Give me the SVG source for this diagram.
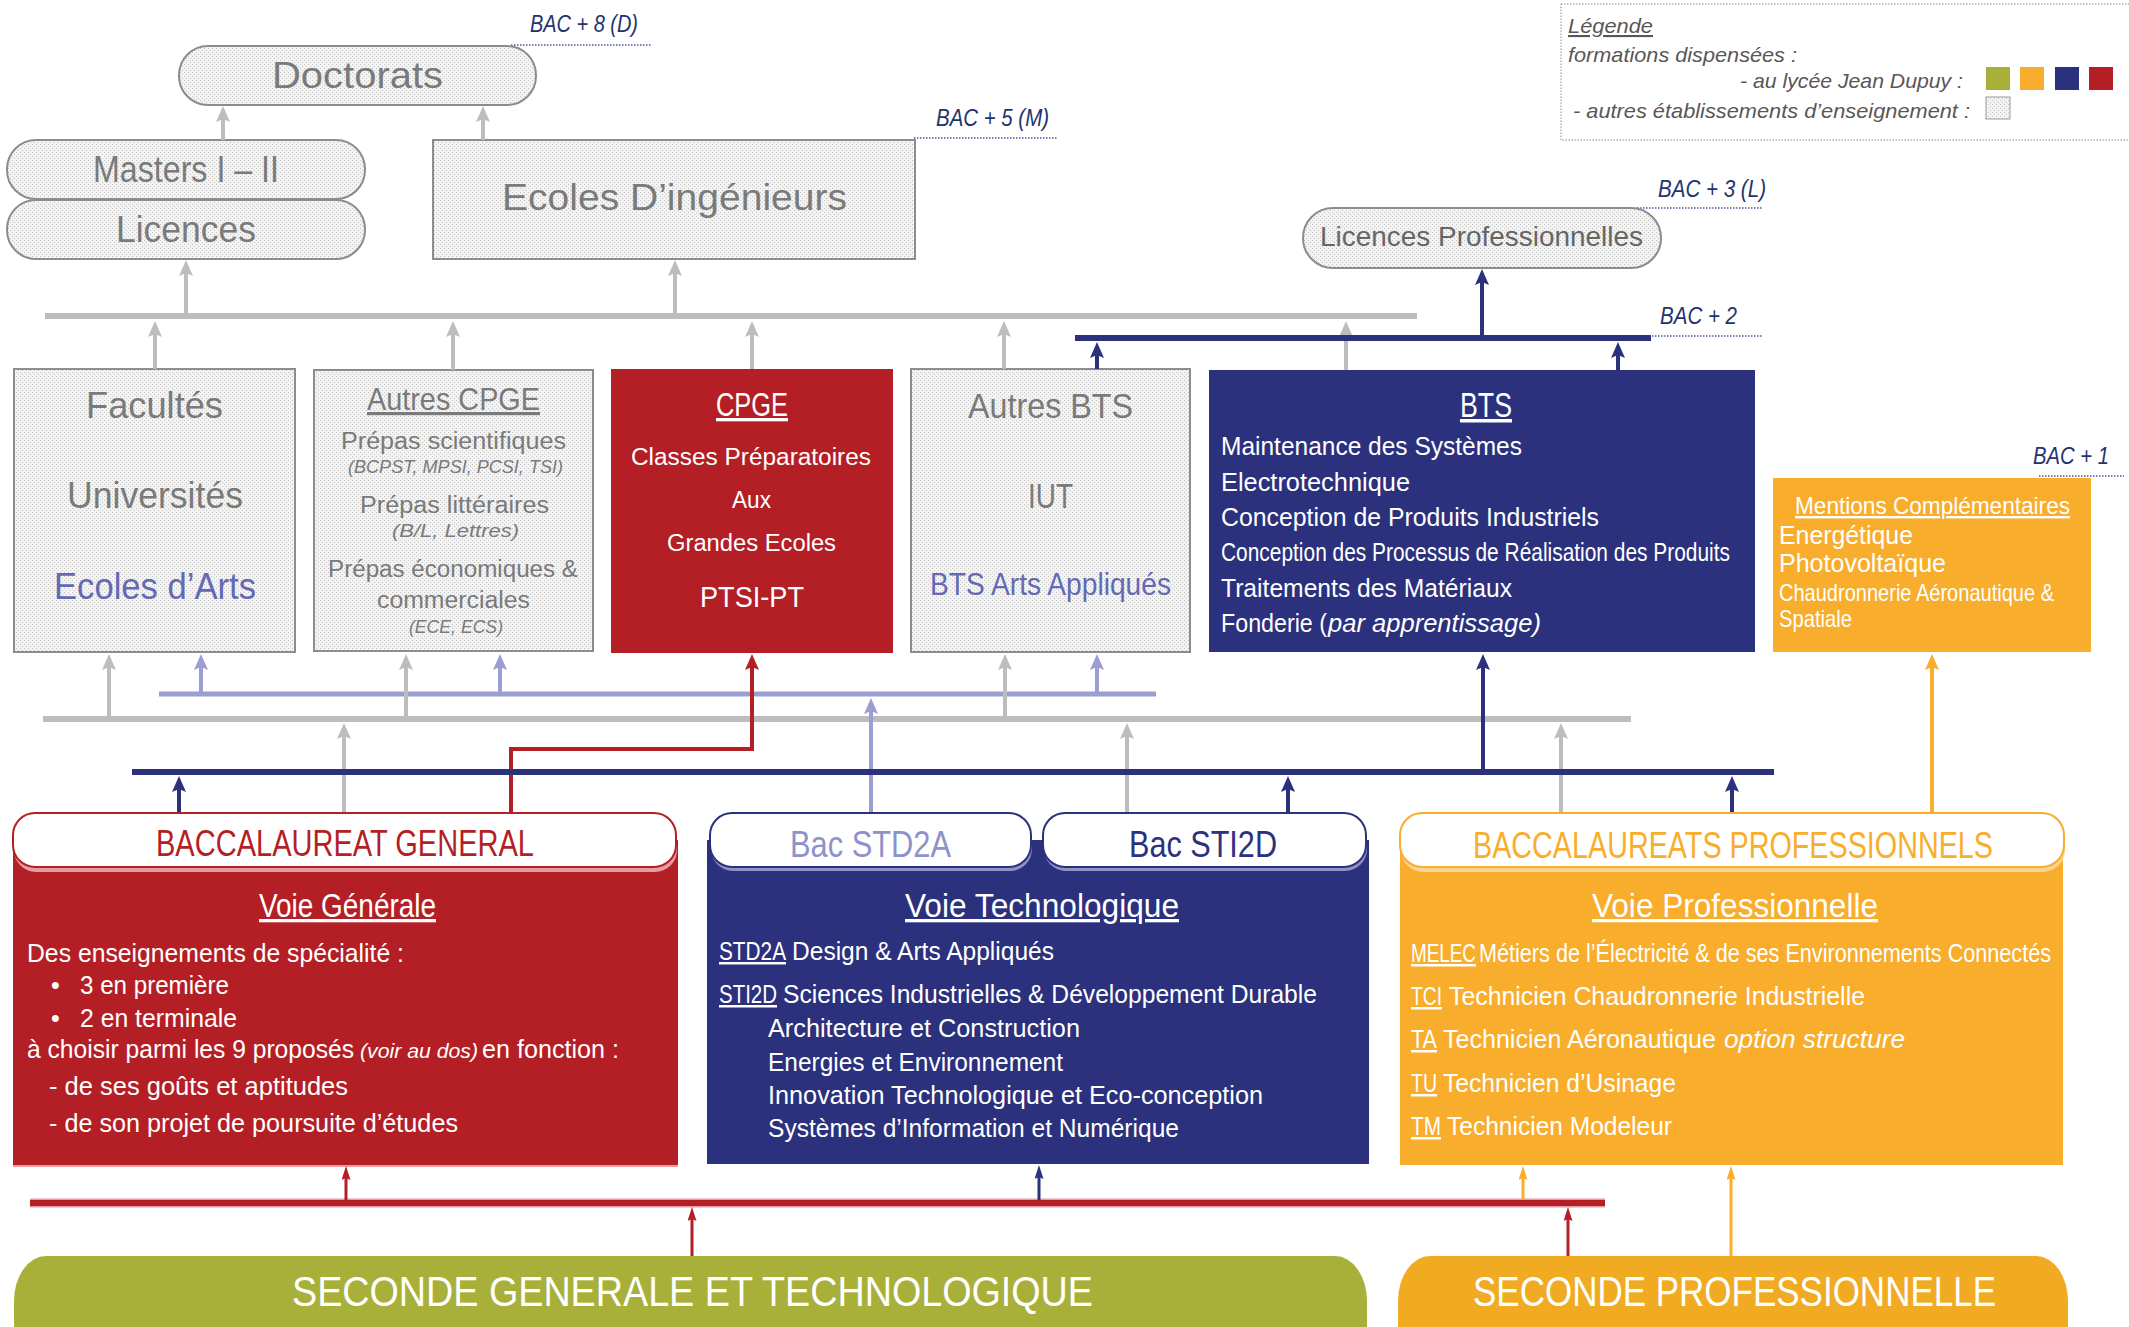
<svg xmlns="http://www.w3.org/2000/svg" width="2129" height="1327" viewBox="0 0 2129 1327">
<defs>
<style>
text{font-family:"Liberation Sans",Arial,sans-serif;}
.g{fill:#7a7a7a}
.w{fill:#ffffff}
.i{font-style:italic}
.u{text-decoration:underline}
.bac{fill:#23336e;font-style:italic;font-size:24px}
.leg{fill:#5b5656;font-style:italic;font-size:21px}
.ap{fill:#6369b5}
.gbox{fill:url(#dots);stroke:#8c8c8c;stroke-width:2}
.dl{stroke:#4a5596;stroke-width:1.5;stroke-dasharray:1.5 1.5;fill:none}
.cg{stroke:#bdbdbd;fill:none}
.cn{stroke:#2b317c;fill:none}
.cp{stroke:#9b9ed2;fill:none}
.cr{stroke:#b41f25;fill:none}
.co{stroke:#f9ad2d;fill:none}
</style>
<pattern id="dots" width="4" height="4" patternUnits="userSpaceOnUse">
<rect width="4" height="4" fill="#f3f3f3"/>
<rect width="1" height="1" fill="#c4c4c4"/>
<rect x="2" y="2" width="1" height="1" fill="#c4c4c4"/>
</pattern>
<marker id="mg" viewBox="0 0 16 14" markerWidth="16" markerHeight="14" refX="8" refY="7" orient="auto" markerUnits="userSpaceOnUse"><path d="M0,0 L16,7 L0,14 L3,7 z" fill="#bdbdbd"/></marker>
<marker id="mn" viewBox="0 0 16 14" markerWidth="16" markerHeight="14" refX="8" refY="7" orient="auto" markerUnits="userSpaceOnUse"><path d="M0,0 L16,7 L0,14 L3,7 z" fill="#2b317c"/></marker>
<marker id="mp" viewBox="0 0 16 14" markerWidth="16" markerHeight="14" refX="8" refY="7" orient="auto" markerUnits="userSpaceOnUse"><path d="M0,0 L16,7 L0,14 L3,7 z" fill="#9b9ed2"/></marker>
<marker id="mr" viewBox="0 0 16 14" markerWidth="16" markerHeight="14" refX="8" refY="7" orient="auto" markerUnits="userSpaceOnUse"><path d="M0,0 L16,7 L0,14 L3,7 z" fill="#b41f25"/></marker>
<marker id="mo" viewBox="0 0 16 14" markerWidth="16" markerHeight="14" refX="8" refY="7" orient="auto" markerUnits="userSpaceOnUse"><path d="M0,0 L16,7 L0,14 L3,7 z" fill="#f9ad2d"/></marker>
<marker id="tr" viewBox="0 0 14 9" markerWidth="14" markerHeight="9" refX="7" refY="4.5" orient="auto" markerUnits="userSpaceOnUse"><path d="M0,0 L14,4.5 L0,9 L2,4.5 z" fill="#b41f25"/></marker>
<marker id="tn" viewBox="0 0 14 9" markerWidth="14" markerHeight="9" refX="7" refY="4.5" orient="auto" markerUnits="userSpaceOnUse"><path d="M0,0 L14,4.5 L0,9 L2,4.5 z" fill="#2b317c"/></marker>
<marker id="to" viewBox="0 0 14 9" markerWidth="14" markerHeight="9" refX="7" refY="4.5" orient="auto" markerUnits="userSpaceOnUse"><path d="M0,0 L14,4.5 L0,9 L2,4.5 z" fill="#f9ad2d"/></marker>
</defs>
<rect width="2129" height="1327" fill="#ffffff"/>

<g id="levels">
<text class="bac" x="530" y="32" textLength="108" lengthAdjust="spacingAndGlyphs">BAC + 8 (D)</text>
<line class="dl" x1="511" y1="45" x2="651" y2="45"/>
<text class="bac" x="936" y="126" textLength="113" lengthAdjust="spacingAndGlyphs">BAC + 5 (M)</text>
<line class="dl" x1="914" y1="138" x2="1058" y2="138"/>
<text class="bac" x="1658" y="197" textLength="108" lengthAdjust="spacingAndGlyphs">BAC + 3 (L)</text>
<line class="dl" x1="1637" y1="208" x2="1763" y2="208"/>
<text class="bac" x="1660" y="324" textLength="77" lengthAdjust="spacingAndGlyphs">BAC + 2</text>
<line class="dl" x1="1637" y1="336" x2="1763" y2="336"/>
<text class="bac" x="2033" y="464" textLength="76" lengthAdjust="spacingAndGlyphs">BAC + 1</text>
<line class="dl" x1="2039" y1="476" x2="2124" y2="476"/>
</g>

<g id="legende">
<rect x="1561" y="4" width="580" height="136" fill="none" stroke="#8a8a8a" stroke-width="1" stroke-dasharray="1.5 1.5"/>
<text class="leg u" x="1568" y="33" textLength="85" lengthAdjust="spacingAndGlyphs">Légende</text>
<text class="leg" x="1568" y="62" textLength="229" lengthAdjust="spacingAndGlyphs">formations dispensées :</text>
<text class="leg" x="1740" y="88" textLength="223" lengthAdjust="spacingAndGlyphs">- au lycée Jean Dupuy :</text>
<text class="leg" x="1573" y="118" textLength="397" lengthAdjust="spacingAndGlyphs">- autres établissements d’enseignement :</text>
<rect x="1986" y="67" width="24" height="23" fill="#a8b03a"/>
<rect x="2020" y="67" width="24" height="23" fill="#f9ad2d"/>
<rect x="2055" y="67" width="24" height="23" fill="#2b317c"/>
<rect x="2089" y="67" width="24" height="23" fill="#b41f25"/>
<rect x="1986" y="97" width="24" height="22" fill="url(#dots)" stroke="#999" stroke-width="1"/>
</g>

<g id="doctorats">
<rect class="gbox" x="179" y="46" width="357" height="59" rx="29"/>
<text class="g" x="272" y="88" font-size="36" textLength="171" lengthAdjust="spacingAndGlyphs">Doctorats</text>
</g>
<g id="masters">
<rect class="gbox" x="7" y="140" width="358" height="59" rx="29"/>
<text class="g" x="93" y="182" font-size="36" textLength="186" lengthAdjust="spacingAndGlyphs">Masters I – II</text>
</g>
<g id="licences">
<rect class="gbox" x="7" y="200" width="358" height="59" rx="29"/>
<text class="g" x="116" y="242" font-size="36" textLength="140" lengthAdjust="spacingAndGlyphs">Licences</text>
</g>
<g id="ecoles-ingenieurs">
<rect class="gbox" x="433" y="140" width="482" height="119"/>
<text class="g" x="502" y="210" font-size="37" textLength="345" lengthAdjust="spacingAndGlyphs">Ecoles D’ingénieurs</text>
</g>
<g id="licences-pro">
<rect class="gbox" x="1303" y="208" width="358" height="60" rx="30"/>
<text x="1320" y="246" font-size="27" fill="#666" textLength="323" lengthAdjust="spacingAndGlyphs">Licences Professionnelles</text>
</g>

<g id="facultes">
<rect class="gbox" x="14" y="369" width="281" height="283"/>
<text class="g" x="86" y="418" font-size="36" textLength="137" lengthAdjust="spacingAndGlyphs">Facultés</text>
<text class="g" x="67" y="508" font-size="36" textLength="176" lengthAdjust="spacingAndGlyphs">Universités</text>
<text class="ap" x="54" y="599" font-size="36" textLength="202" lengthAdjust="spacingAndGlyphs">Ecoles d’Arts</text>
</g>
<g id="autres-cpge">
<rect class="gbox" x="314" y="370" width="279" height="281"/>
<text class="g u" x="367" y="410" font-size="32" textLength="173" lengthAdjust="spacingAndGlyphs">Autres CPGE</text>
<text class="g" x="341" y="449" font-size="23" textLength="225" lengthAdjust="spacingAndGlyphs">Prépas scientifiques</text>
<text class="g i" x="348" y="473" font-size="18" textLength="215" lengthAdjust="spacingAndGlyphs">(BCPST, MPSI, PCSI, TSI)</text>
<text class="g" x="360" y="513" font-size="23" textLength="189" lengthAdjust="spacingAndGlyphs">Prépas littéraires</text>
<text class="g i" x="392" y="537" font-size="18" textLength="127" lengthAdjust="spacingAndGlyphs">(B/L, Lettres)</text>
<text class="g" x="328" y="577" font-size="23" textLength="250" lengthAdjust="spacingAndGlyphs">Prépas économiques &amp;</text>
<text class="g" x="377" y="608" font-size="23" textLength="153" lengthAdjust="spacingAndGlyphs">commerciales</text>
<text class="g i" x="409" y="633" font-size="18" textLength="94" lengthAdjust="spacingAndGlyphs">(ECE, ECS)</text>
</g>
<g id="cpge">
<rect x="611" y="369" width="282" height="284" fill="#b41f25"/>
<text class="w u" x="716" y="416" font-size="33" textLength="72" lengthAdjust="spacingAndGlyphs">CPGE</text>
<text class="w" x="631" y="465" font-size="23" textLength="240" lengthAdjust="spacingAndGlyphs">Classes Préparatoires</text>
<text class="w" x="732" y="508" font-size="23" textLength="39" lengthAdjust="spacingAndGlyphs">Aux</text>
<text class="w" x="667" y="551" font-size="23" textLength="169" lengthAdjust="spacingAndGlyphs">Grandes Ecoles</text>
<text class="w" x="700" y="607" font-size="30" textLength="104" lengthAdjust="spacingAndGlyphs">PTSI-PT</text>
</g>
<g id="autres-bts">
<rect class="gbox" x="911" y="369" width="279" height="283"/>
<text class="g" x="968" y="418" font-size="35" textLength="165" lengthAdjust="spacingAndGlyphs">Autres BTS</text>
<text class="g" x="1028" y="508" font-size="35" textLength="45" lengthAdjust="spacingAndGlyphs">IUT</text>
<text class="ap" x="930" y="595" font-size="32" textLength="241" lengthAdjust="spacingAndGlyphs">BTS Arts Appliqués</text>
</g>
<g id="bts">
<rect x="1209" y="370" width="546" height="282" fill="#2b317c"/>
<text class="w u" x="1460" y="417" font-size="35" textLength="52" lengthAdjust="spacingAndGlyphs">BTS</text>
<text class="w" x="1221" y="455" font-size="25" textLength="301" lengthAdjust="spacingAndGlyphs">Maintenance des Systèmes</text>
<text class="w" x="1221" y="491" font-size="25" textLength="189" lengthAdjust="spacingAndGlyphs">Electrotechnique</text>
<text class="w" x="1221" y="526" font-size="25" textLength="378" lengthAdjust="spacingAndGlyphs">Conception de Produits Industriels</text>
<text class="w" x="1221" y="561" font-size="25" textLength="509" lengthAdjust="spacingAndGlyphs">Conception des Processus de Réalisation des Produits</text>
<text class="w" x="1221" y="597" font-size="25" textLength="291" lengthAdjust="spacingAndGlyphs">Traitements des Matériaux</text>
<text class="w" x="1221" y="632" font-size="25" textLength="106" lengthAdjust="spacingAndGlyphs">Fonderie (</text>
<text class="w i" x="1328" y="632" font-size="25" textLength="213" lengthAdjust="spacingAndGlyphs">par apprentissage)</text>
</g>
<g id="mentions-complementaires">
<rect x="1773" y="478" width="318" height="174" fill="#f9ad2d"/>
<text class="w u" x="1795" y="514" font-size="24" textLength="275" lengthAdjust="spacingAndGlyphs">Mentions Complémentaires</text>
<text class="w" x="1779" y="544" font-size="25" textLength="134" lengthAdjust="spacingAndGlyphs">Energétique</text>
<text class="w" x="1779" y="572" font-size="25" textLength="167" lengthAdjust="spacingAndGlyphs">Photovoltaïque</text>
<text class="w" x="1779" y="601" font-size="24" textLength="275" lengthAdjust="spacingAndGlyphs">Chaudronnerie Aéronautique &amp;</text>
<text class="w" x="1779" y="627" font-size="24" textLength="73" lengthAdjust="spacingAndGlyphs">Spatiale</text>
</g>

<g id="bac-general">
<rect x="13" y="840" width="665" height="325" fill="#b41f25"/>
<line x1="13" y1="1166" x2="678" y2="1166" stroke="#e69da1" stroke-width="2"/>
<rect x="14" y="818" width="663" height="54" rx="22" fill="#e69da1"/>
<rect x="13" y="813" width="663" height="54" rx="22" fill="#fff" stroke="#b41f25" stroke-width="2"/>
<text x="156" y="856" font-size="36" fill="#b41f25" textLength="378" lengthAdjust="spacingAndGlyphs">BACCALAUREAT GENERAL</text>
<text class="w u" x="259" y="917" font-size="33" textLength="177" lengthAdjust="spacingAndGlyphs">Voie Générale</text>
<text class="w" x="27" y="962" font-size="25" textLength="377" lengthAdjust="spacingAndGlyphs">Des enseignements de spécialité :</text>
<text class="w" x="51" y="994" font-size="25">•</text>
<text class="w" x="80" y="994" font-size="25" textLength="149" lengthAdjust="spacingAndGlyphs">3 en première</text>
<text class="w" x="51" y="1027" font-size="25">•</text>
<text class="w" x="80" y="1027" font-size="25" textLength="157" lengthAdjust="spacingAndGlyphs">2 en terminale</text>
<text class="w" x="27" y="1058" font-size="25" textLength="327" lengthAdjust="spacingAndGlyphs">à choisir parmi les 9 proposés</text>
<text class="w i" x="360" y="1058" font-size="21" textLength="118" lengthAdjust="spacingAndGlyphs">(voir au dos)</text>
<text class="w" x="482" y="1058" font-size="25" textLength="137" lengthAdjust="spacingAndGlyphs">en fonction :</text>
<text class="w" x="49" y="1095" font-size="25" textLength="299" lengthAdjust="spacingAndGlyphs">- de ses goûts et aptitudes</text>
<text class="w" x="49" y="1132" font-size="25" textLength="409" lengthAdjust="spacingAndGlyphs">- de son projet de poursuite d’études</text>
</g>

<g id="bac-techno">
<rect x="707" y="840" width="662" height="324" fill="#2b317c"/>
<rect x="711" y="818" width="321" height="53" rx="22" fill="#8e92c8"/>
<rect x="710" y="813" width="321" height="54" rx="22" fill="#fff" stroke="#2b317c" stroke-width="2"/>
<rect x="1044" y="818" width="323" height="53" rx="22" fill="#8e92c8"/>
<rect x="1043" y="813" width="323" height="54" rx="22" fill="#fff" stroke="#2b317c" stroke-width="2"/>
<text x="790" y="857" font-size="36" fill="#8e92cb" textLength="161" lengthAdjust="spacingAndGlyphs">Bac STD2A</text>
<text x="1129" y="857" font-size="36" fill="#2b317c" textLength="148" lengthAdjust="spacingAndGlyphs">Bac STI2D</text>
<text class="w u" x="905" y="917" font-size="33" textLength="274" lengthAdjust="spacingAndGlyphs">Voie Technologique</text>
<text class="w u" x="719" y="960" font-size="25" textLength="67" lengthAdjust="spacingAndGlyphs">STD2A</text>
<text class="w" x="792" y="960" font-size="25" textLength="262" lengthAdjust="spacingAndGlyphs">Design &amp; Arts Appliqués</text>
<text class="w u" x="719" y="1003" font-size="25" textLength="58" lengthAdjust="spacingAndGlyphs">STI2D</text>
<text class="w" x="783" y="1003" font-size="25" textLength="534" lengthAdjust="spacingAndGlyphs">Sciences Industrielles &amp; Développement Durable</text>
<text class="w" x="768" y="1037" font-size="25" textLength="312" lengthAdjust="spacingAndGlyphs">Architecture et Construction</text>
<text class="w" x="768" y="1071" font-size="25" textLength="295" lengthAdjust="spacingAndGlyphs">Energies et Environnement</text>
<text class="w" x="768" y="1104" font-size="25" textLength="495" lengthAdjust="spacingAndGlyphs">Innovation Technologique et Eco-conception</text>
<text class="w" x="768" y="1137" font-size="25" textLength="411" lengthAdjust="spacingAndGlyphs">Systèmes d’Information et Numérique</text>
</g>

<g id="bac-pro">
<rect x="1400" y="840" width="663" height="325" fill="#f9ad2d"/>
<rect x="1401" y="818" width="664" height="54" rx="22" fill="#fbd28f"/>
<rect x="1400" y="813" width="664" height="54" rx="22" fill="#fff" stroke="#f9ad2d" stroke-width="2"/>
<text x="1473" y="858" font-size="36" fill="#f9ad2d" textLength="520" lengthAdjust="spacingAndGlyphs">BACCALAUREATS PROFESSIONNELS</text>
<text class="w u" x="1592" y="917" font-size="33" textLength="286" lengthAdjust="spacingAndGlyphs">Voie Professionnelle</text>
<text class="w u" x="1411" y="962" font-size="25" textLength="65" lengthAdjust="spacingAndGlyphs">MELEC</text>
<text class="w" x="1479" y="962" font-size="25" textLength="572" lengthAdjust="spacingAndGlyphs">Métiers de l’Électricité &amp; de ses Environnements Connectés</text>
<text class="w u" x="1411" y="1005" font-size="25" textLength="31" lengthAdjust="spacingAndGlyphs">TCI</text>
<text class="w" x="1449" y="1005" font-size="25" textLength="416" lengthAdjust="spacingAndGlyphs">Technicien Chaudronnerie Industrielle</text>
<text class="w u" x="1411" y="1048" font-size="25" textLength="26" lengthAdjust="spacingAndGlyphs">TA</text>
<text class="w" x="1443" y="1048" font-size="25" textLength="273" lengthAdjust="spacingAndGlyphs">Technicien Aéronautique</text>
<text class="w i" x="1724" y="1048" font-size="25" textLength="181" lengthAdjust="spacingAndGlyphs">option structure</text>
<text class="w u" x="1411" y="1092" font-size="25" textLength="26" lengthAdjust="spacingAndGlyphs">TU</text>
<text class="w" x="1443" y="1092" font-size="25" textLength="233" lengthAdjust="spacingAndGlyphs">Technicien d’Usinage</text>
<text class="w u" x="1411" y="1135" font-size="25" textLength="30" lengthAdjust="spacingAndGlyphs">TM</text>
<text class="w" x="1447" y="1135" font-size="25" textLength="225" lengthAdjust="spacingAndGlyphs">Technicien Modeleur</text>
</g>

<g id="seconde-gt">
<rect x="14" y="1256" width="1353" height="120" rx="32" ry="45" fill="#a8b03a"/>
<text class="w" x="292" y="1306" font-size="43" textLength="801" lengthAdjust="spacingAndGlyphs">SECONDE GENERALE ET TECHNOLOGIQUE</text>
</g>
<g id="seconde-pro">
<rect x="1398" y="1256" width="670" height="120" rx="32" ry="45" fill="#f0ab22"/>
<text class="w" x="1473" y="1306" font-size="43" textLength="523" lengthAdjust="spacingAndGlyphs">SECONDE PROFESSIONNELLE</text>
</g>

<g id="connectors">
<!-- upper level -->
<line class="cg" x1="45" y1="316" x2="1417" y2="316" stroke-width="6"/>
<path class="cg" stroke-width="4" d="M223 140 V114" marker-end="url(#mg)"/>
<path class="cg" stroke-width="4" d="M483 140 V114" marker-end="url(#mg)"/>
<path class="cg" stroke-width="4" d="M186 314 V268" marker-end="url(#mg)"/>
<path class="cg" stroke-width="4" d="M675 314 V268" marker-end="url(#mg)"/>
<path class="cg" stroke-width="4" d="M155 369 V329" marker-end="url(#mg)"/>
<path class="cg" stroke-width="4" d="M453 370 V329" marker-end="url(#mg)"/>
<path class="cg" stroke-width="4" d="M752 369 V329" marker-end="url(#mg)"/>
<path class="cg" stroke-width="4" d="M1004 369 V329" marker-end="url(#mg)"/>
<path class="cg" stroke-width="4" d="M1346 370 V329" marker-end="url(#mg)"/>
<line class="cn" x1="1075" y1="338" x2="1651" y2="338" stroke-width="6"/>
<path class="cn" stroke-width="4" d="M1097 369 V350" marker-end="url(#mn)"/>
<path class="cn" stroke-width="4" d="M1618 370 V350" marker-end="url(#mn)"/>
<path class="cn" stroke-width="4" d="M1482 336 V277" marker-end="url(#mn)"/>
<!-- lower level -->
<line class="cp" x1="159" y1="694" x2="1156" y2="694" stroke-width="5"/>
<line class="cg" x1="43" y1="719" x2="1631" y2="719" stroke-width="6"/>
<path class="cg" stroke-width="4" d="M109 717 V662" marker-end="url(#mg)"/>
<path class="cg" stroke-width="4" d="M406 717 V662" marker-end="url(#mg)"/>
<path class="cg" stroke-width="4" d="M1005 717 V662" marker-end="url(#mg)"/>
<path class="cp" stroke-width="4" d="M201 692 V662" marker-end="url(#mp)"/>
<path class="cp" stroke-width="4" d="M500 692 V662" marker-end="url(#mp)"/>
<path class="cp" stroke-width="4" d="M1097 692 V662" marker-end="url(#mp)"/>
<path class="cg" stroke-width="4" d="M344 812 V731" marker-end="url(#mg)"/>
<path class="cg" stroke-width="4" d="M1127 812 V731" marker-end="url(#mg)"/>
<path class="cg" stroke-width="4" d="M1561 812 V731" marker-end="url(#mg)"/>
<path class="cp" stroke-width="4" d="M871 812 V706" marker-end="url(#mp)"/>
<path class="cr" stroke-width="4" d="M511 812 V749 H752 V662" marker-end="url(#mr)"/>
<line class="cn" x1="132" y1="772" x2="1774" y2="772" stroke-width="6"/>
<path class="cn" stroke-width="4" d="M179 812 V784" marker-end="url(#mn)"/>
<path class="cn" stroke-width="4" d="M1288 812 V784" marker-end="url(#mn)"/>
<path class="cn" stroke-width="4" d="M1732 812 V784" marker-end="url(#mn)"/>
<path class="cn" stroke-width="4" d="M1483 772 V662" marker-end="url(#mn)"/>
<path class="co" stroke-width="4" d="M1932 812 V662" marker-end="url(#mo)"/>
<!-- bottom level -->
<line x1="30" y1="1203" x2="1605" y2="1203" stroke="#e69da1" stroke-width="9"/>
<line class="cr" x1="30" y1="1203" x2="1605" y2="1203" stroke-width="6"/>
<path class="cr" stroke-width="3" d="M346 1200 V1173" marker-end="url(#tr)"/>
<path class="cn" stroke-width="3" d="M1039 1200 V1172" marker-end="url(#tn)"/>
<path class="co" stroke-width="3" d="M1523 1200 V1173" marker-end="url(#to)"/>
<path class="cr" stroke-width="3" d="M692 1256 V1214" marker-end="url(#tr)"/>
<path class="cr" stroke-width="3" d="M1568 1256 V1214" marker-end="url(#tr)"/>
<path class="co" stroke-width="3" d="M1731 1256 V1173" marker-end="url(#to)"/>
</g>
</svg>
